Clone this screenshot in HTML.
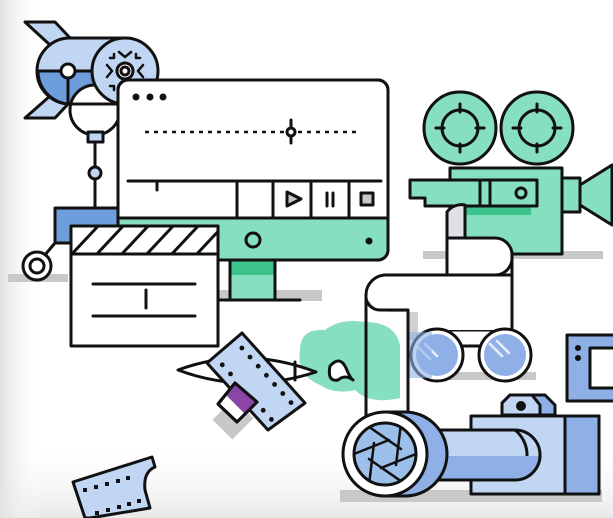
<!DOCTYPE html>
<html><head><meta charset="utf-8"><style>
html,body{margin:0;padding:0;background:#fff;}
svg{display:block;}
</style></head><body>
<svg width="613" height="518" viewBox="0 0 613 518" xmlns="http://www.w3.org/2000/svg">
<defs>
<linearGradient id="lg" x1="0" x2="1" y1="0" y2="0"><stop offset="0" stop-color="#e2e2e2"/><stop offset="0.07" stop-color="#fff" stop-opacity="0"/></linearGradient>
<linearGradient id="bg" x1="0" x2="0" y1="0" y2="1"><stop offset="0.85" stop-color="#fff" stop-opacity="0"/><stop offset="1" stop-color="#e8e8e8"/></linearGradient>
</defs>
<rect width="613" height="518" fill="#fff"/>
<rect width="613" height="518" fill="url(#bg)"/>
<rect width="613" height="518" fill="url(#lg)"/>
<g stroke="#111" stroke-width="3" stroke-linejoin="round" stroke-linecap="round">
<g stroke="none" fill="#c8c8c8">
<rect x="8" y="274" width="60" height="8"/>
<rect x="218" y="290" width="104" height="11"/>
<rect x="423" y="251" width="180" height="8"/>
<rect x="300" y="290" width="22" height="10"/>
<rect x="430" y="372" width="106" height="8"/>
<rect x="340" y="490" width="262" height="12"/>
<rect x="218" y="405" width="30" height="28" transform="rotate(-45 233 419)"/>
</g>
<!-- rocket -->
<polygon points="25,22 55,22 72,40 50,45" fill="#c0d6f2"/>
<polygon points="25,118 50,96 70,102 55,118" fill="#c0d6f2"/>
<path d="M70,38 L125,38 L125,104 L70,104 A33,33 0 0 1 70,38 Z" fill="#c0d6f2"/>
<path d="M38,71 L125,71 L125,104 L70,104 A33,33 0 0 1 38,71 Z" fill="#6e9ddb"/>
<circle cx="95" cy="110" r="25" fill="#fff"/>
<path d="M70,104 L125,104" />
<circle cx="125" cy="71" r="33" fill="#c0d6f2"/>
<circle cx="125" cy="71" r="8" fill="#fff"/><circle cx="125" cy="71" r="4" fill="#fff"/>
<path d="M119,52 l6,5 l6,-5 M107,65 l5,6 l-5,6 M143,65 l-5,6 l5,6 M110,58 h4 v-4 M140,58 h-4 v-4 M110,86 h4 v4 M140,86 h-4 v4" fill="none" stroke-width="2.5"/>
<path d="M68,71 V104" fill="none"/>
<circle cx="68" cy="71" r="7" fill="#fff"/>
<rect x="88" y="132" width="15" height="10" fill="#c0d6f2"/>
<path d="M95,142 V210" fill="none"/>
<circle cx="95" cy="173" r="6" fill="#c0d6f2"/>
<rect x="55" y="208" width="63" height="35" fill="#6e9ddb"/>
<path d="M55,243 L44,256" fill="none"/>
<circle cx="37" cy="266" r="14" fill="#fff"/><circle cx="37" cy="266" r="7" fill="#fff"/>
<!-- monitor -->
<rect x="230" y="258" width="45" height="42" fill="#86dfbf"/>
<rect x="230" y="260" width="45" height="15" fill="#3cc48c" stroke="none"/>
<path d="M230,258 V300 M275,258 V300 M218,300 H300" fill="none"/>
<rect x="118" y="80" width="270" height="180" rx="10" fill="#fff"/>
<path d="M119.5,218 H386.5 V250 A8.5,8.5 0 0 1 378,258.5 H128 A8.5,8.5 0 0 1 119.5,250 Z" fill="#86dfbf" stroke="none"/>
<rect x="118" y="80" width="270" height="180" rx="10" fill="none"/>
<path d="M118,218 H388 M128,181 H381 M237,181 V218 M273,181 V218 M311,181 V218 M349,181 V218 M157,181 V190" fill="none"/>
<path d="M287,192 L301,199 L287,206 Z" fill="#c8c8c8"/>
<path d="M327,193 V206 M333,193 V206" fill="none"/>
<rect x="361" y="193" width="12" height="12" fill="#c8c8c8"/>
<circle cx="253" cy="240" r="7" fill="none"/>
<circle cx="369" cy="241" r="3.5" fill="#111" stroke="none"/>
<g fill="#111" stroke="none"><circle cx="136" cy="97" r="3.5"/><circle cx="150" cy="97" r="3.5"/><circle cx="163" cy="97" r="3.5"/></g>
<path d="M145,132 H358" stroke-dasharray="4,5" stroke-linecap="butt" fill="none" stroke-width="2.5"/>
<path d="M291,120 V143" fill="none"/><circle cx="291" cy="132" r="4" fill="#fff"/>
<!-- clapperboard -->
<rect x="71" y="226" width="147" height="120" fill="#fff"/>
<clipPath id="cb"><rect x="71" y="226" width="147" height="28"/></clipPath>
<g clip-path="url(#cb)" fill="none"><path d="M70,256 L100,224 M95,256 L125,224 M120,256 L150,224 M145,256 L175,224 M170,256 L200,224 M195,256 L225,224"/></g>
<path d="M71,254 H218 M93,284 H195 M93,316 H195 M146,290 V308" fill="none"/>
<!-- movie camera -->
<circle cx="460" cy="128" r="36" fill="#86dfbf"/><circle cx="460" cy="128" r="18" fill="none"/>
<path d="M460,104 V112 M460,144 V152 M436,128 H444 M476,128 H484" fill="none"/>
<circle cx="537" cy="128" r="36" fill="#86dfbf"/><circle cx="537" cy="128" r="18" fill="none"/>
<path d="M537,104 V112 M537,144 V152 M513,128 H521 M553,128 H561" fill="none"/>
<rect x="450" y="168" width="112" height="86" fill="#86dfbf"/>
<rect x="466" y="207" width="65" height="8" fill="#3cc48c" stroke="none"/>
<path d="M410,180 H537 V206 H425 V198 H410 Z" fill="#86dfbf"/>
<path d="M480,180 V206 M490,180 V206" fill="none"/>
<circle cx="521" cy="193" r="5" fill="none"/>
<rect x="562" y="178" width="18" height="34" fill="#86dfbf"/>
<polygon points="580,185 612,165 612,225 580,205" fill="#86dfbf"/>
<!-- scroll -->
<path d="M447,270 V212 A18,18 0 0 1 465,205 V238" fill="#e0e0e6"/>
<path d="M447,238 H495 A17,17 0 0 1 512,255 V330 H447 Z" fill="#fff"/>
<path d="M447,238 V275" fill="none"/>
<path d="M385,275 H495 A17,17 0 0 0 512,258" fill="none"/>
<path d="M366,295 A20,20 0 0 1 386,275 H512 V330 H408 V420 H366 Z" fill="#fff" stroke="none"/>
<path d="M368,300 Q372,312 392,312 H418 V340 H408 V310 H378 Z" fill="#d0d0d0" stroke="none"/>
<path d="M366,420 V295 A20,20 0 0 1 386,275 H512 V330 M366,298 A14,14 0 0 0 380,310 H408 V420" fill="none"/>
<!-- cloud -->
<path d="M300,350 Q300,328 325,330 Q340,318 365,322 Q395,322 400,345 L400,398 Q370,405 355,390 Q335,395 320,385 Q296,375 300,350 Z" fill="#86dfbf" stroke="none"/>
<path d="M366,320 V420 M408,320 V420" fill="none"/>
<!-- glasses -->
<path d="M460,346 H482" fill="none"/>
<circle cx="437" cy="355" r="26" fill="#fff"/><circle cx="437" cy="355" r="21" fill="#8fb0e6" stroke="none"/>
<circle cx="505" cy="355" r="26" fill="#fff"/><circle cx="505" cy="355" r="21" fill="#8fb0e6" stroke="none"/>
<path d="M418,347 L430,359 M425,344 L437,356 M490,344 L502,356 M497,341 L509,353" stroke="#e8eefa" stroke-width="2.5" fill="none"/>
<rect x="407" y="332" width="25" height="46" fill="#8fb0e6" opacity="0.6" stroke="none"/>
<path d="M408,332 V420" fill="none"/>
<!-- eye -->
<path d="M178,370 Q245,345 316,372 Q245,395 178,370 Z" fill="#fff"/>
<path d="M295,362 V380" fill="none"/>
<path d="M330,366 Q340,355 346,368 Q350,378 353,380 Q345,374 338,380 Q327,382 330,366 Z" fill="#fff"/>
<!-- film strip -->
<polygon points="242,333 305,403 268,430 207,363" fill="#c0d6f2"/>
<g fill="#111" stroke="none">
<circle cx="241.9" cy="348" r="2.4"/><circle cx="250" cy="357.1" r="2.4"/><circle cx="258.2" cy="366.2" r="2.4"/><circle cx="266.4" cy="375.3" r="2.4"/><circle cx="274.6" cy="384.4" r="2.4"/><circle cx="282.8" cy="393.5" r="2.4"/><circle cx="291" cy="402.6" r="2.4"/>
<circle cx="222.3" cy="364.8" r="2.4"/><circle cx="230.5" cy="373.9" r="2.4"/><circle cx="263.2" cy="410.3" r="2.4"/><circle cx="271.4" cy="419.4" r="2.4"/>
</g>
<polygon points="235,383 257,402 237,422 218,404" fill="#fff"/>
<polygon points="235,383 257,402 245,414 225,394" fill="#8b44a8" stroke="none"/>
<polygon points="235,383 257,402 237,422 218,404" fill="none"/>
<!-- bottom-left film -->
<path d="M73,482 L152,457 L155,467 Q143,472 145,490 L150,508 L90,518 L85,518 Z" fill="#c0d6f2"/>
<g fill="#111" stroke="none"><rect x="83" y="488" width="4" height="4"/><rect x="94" y="485" width="4" height="4"/><rect x="105" y="482" width="4" height="4"/><rect x="116" y="479" width="4" height="4"/><rect x="126" y="476" width="4" height="4"/><rect x="95" y="511" width="4" height="4"/><rect x="106" y="508" width="4" height="4"/><rect x="117" y="505" width="4" height="4"/><rect x="127" y="502" width="4" height="4"/><rect x="137" y="499" width="4" height="4"/></g>
<!-- right screen -->
<rect x="567" y="335" width="50" height="66" fill="#8fb0e6"/>
<rect x="590" y="348" width="30" height="40" fill="#fff"/>
<circle cx="578" cy="348" r="3" fill="#111" stroke="none"/><circle cx="578" cy="358" r="3" fill="#111" stroke="none"/>
<!-- big camera -->
<path d="M502,415 V403 L510,395 L545,395 L555,405 V415 Z" fill="#8fb0e6"/>
<path d="M502,415 V403 L510,395 L532,395 L540,405 V415 Z" fill="#c0d6f2"/>
<circle cx="521" cy="406" r="5" fill="#111" stroke="none"/>
<rect x="471" y="416" width="128" height="78" fill="#c0d6f2"/>
<rect x="565" y="416" width="34" height="78" fill="#8fb0e6"/>
<path d="M420,430 H515 A32,32 0 0 1 515,480 H420 Z" fill="#c0d6f2"/>
<path d="M420,456 H542 A25,25 0 0 1 515,480 H420 Z" fill="#8fb0e6" stroke="none"/>
<path d="M420,430 H515 A25,25 0 0 1 515,480 H420" fill="none"/>
<path d="M385,412 H405 A42,42 0 0 1 405,496 H385 Z" fill="#8fb0e6"/>
<circle cx="385" cy="454" r="42" fill="#fff"/>
<circle cx="385" cy="454" r="31" fill="#9cc0ea"/>
<path d="M416,454 L381,468 M400.5,480.8 L369,459 M369.5,480.8 L374,443 M354,454 L389,440 M369.5,427.2 L401,449 M400.5,427.2 L396,465" fill="none" stroke-width="2.5"/>
</g>
</svg>
</body></html>
